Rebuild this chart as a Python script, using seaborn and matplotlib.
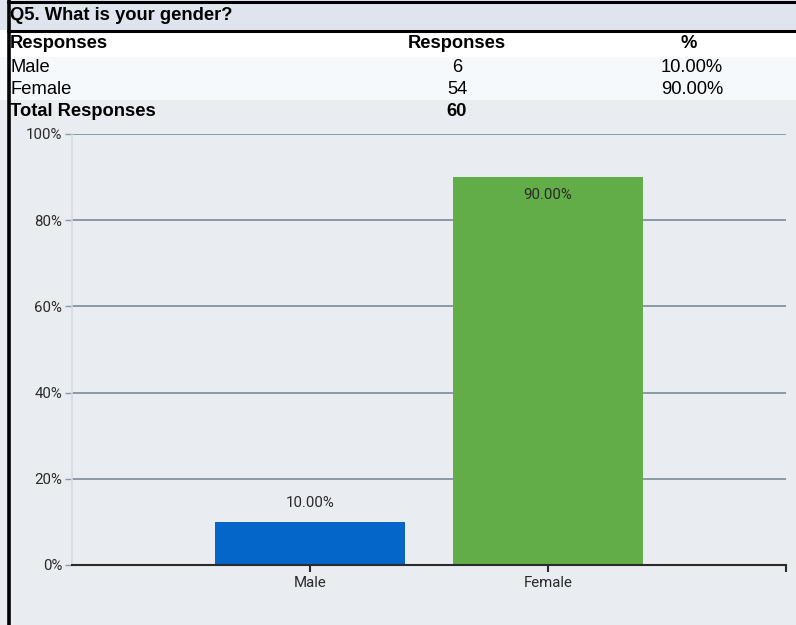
import matplotlib
matplotlib.use("Agg")
import matplotlib.pyplot as plt
from matplotlib.patches import Rectangle
from matplotlib.lines import Line2D
import seaborn as sns
import pandas as pd

# ---- data ----
title = "Q5. What is your gender?"
categories = ["Male", "Female"]
counts = [6, 54]
percents = [10.00, 90.00]
total = 60
yticks = [0, 20, 40, 60, 80, 100]

sns.set_theme(style="white")
plt.rcParams["font.family"] = ["Liberation Sans", "DejaVu Sans"]

W, H = 796, 625
fig = plt.figure(figsize=(W / 100, H / 100), dpi=100)
fig.patch.set_facecolor("#e9edf1")

def px(x, y):
    return x / W, 1 - y / H

def rect(x0, y0, x1, y1, color):
    fig.patches.append(Rectangle((x0 / W, 1 - y1 / H), (x1 - x0) / W, (y1 - y0) / H,
                                 transform=fig.transFigure, facecolor=color,
                                 edgecolor="none", zorder=-5))

def hline(y, x0, x1, color, lw):
    fig.lines.append(Line2D([x0 / W, x1 / W], [1 - y / H, 1 - y / H],
                            transform=fig.transFigure, color=color, lw=lw, zorder=5))

# table backgrounds
rect(0, 0, W, 30, "#dfe4ef")
rect(0, 30, W, 57, "#ffffff")
rect(0, 57, W, 100, "#f5f9fc")
rect(0, 100, W, H, "#e9edf1")

# borders
hline(1.5, 8, W, "black", 2.2)
hline(30.5, 8, W, "black", 2.2)
fig.lines.append(Line2D([8.5 / W, 8.5 / W], [0, 1], transform=fig.transFigure,
                        color="black", lw=2.6, zorder=5))

tkw = dict(fontsize=13.2, color="black", va="center")
fig.text(*px(10, 16), title, fontweight="bold", ha="left", **tkw)
fig.text(*px(10, 44), "Responses", fontweight="bold", ha="left", **tkw)
fig.text(*px(457, 44), "Responses", fontweight="bold", ha="center", **tkw)
fig.text(*px(689, 44), "%", fontweight="bold", ha="center", **tkw)
for i, (c, n, p) in enumerate(zip(categories, counts, percents)):
    y = 68 + 22 * i
    fig.text(*px(10, y), c, ha="left", **tkw)
    fig.text(*px(457, y), f"{n}", ha="center", **tkw)
    fig.text(*px(692, y), f"{p:.2f}%", ha="center", **tkw)
fig.text(*px(10, 112), "Total Responses", fontweight="bold", ha="left", **tkw)
fig.text(*px(457, 112), f"{total}", fontweight="bold", ha="center", **tkw)

# ---- chart ----
ax_l, ax_r, ax_t, ax_b = 72, 786, 134, 565
ax = fig.add_axes([ax_l / W, 1 - ax_b / H, (ax_r - ax_l) / W, (ax_b - ax_t) / H])
ax.set_facecolor("#e9edf1")

df = pd.DataFrame({"cat": categories, "pct": percents})
sns.barplot(data=df, x="cat", y="pct", hue="cat", palette=["#0566c9", "#62ad47"],
            width=0.8, saturation=1, legend=False, ax=ax, zorder=3,
            edgecolor="none", linewidth=0)

ax.set_xlim(-1, 2)
ax.set_ylim(0, 100)
ax.set_yticks(yticks)
ax.set_yticklabels([f"{v}%" for v in yticks])
ax.set_xticks([0, 1, 2])
ax.set_xticklabels(categories + [""])
ax.set_xlabel("")
ax.set_ylabel("")
for v in yticks[1:]:
    ax.axhline(v, color="#8a99a6", lw=1.4, zorder=1)

for s in ["top", "right"]:
    ax.spines[s].set_visible(False)
ax.spines["left"].set_color("#d3dae2")
ax.spines["left"].set_linewidth(1.2)
ax.spines["bottom"].set_color("#2b2b2b")
ax.spines["bottom"].set_linewidth(1.5)
ax.spines["bottom"].set_zorder(4)

ax.tick_params(axis="y", length=5, width=1, color="#8a99a6", pad=2,
               labelsize=10.8, labelcolor="#2a2a2a", left=True)
ax.tick_params(axis="x", length=5, width=1.5, color="#2b2b2b", pad=3,
               labelsize=10.8, labelcolor="#2a2a2a", bottom=True)
for lab in ax.get_xticklabels() + ax.get_yticklabels():
    lab.set_fontfamily(["Roboto", "DejaVu Sans"])

for i, p in enumerate(percents):
    off = -18 if p > 50 else 19
    ax.annotate(f"{p:.2f}%", (i, p), xytext=(0, off), textcoords="offset pixels",
                ha="center", va="center", fontsize=10.8, color="#2a2a2a",
                family=["Roboto", "DejaVu Sans"], zorder=5)

fig.savefig("out.png", dpi=100, facecolor=fig.get_facecolor())
